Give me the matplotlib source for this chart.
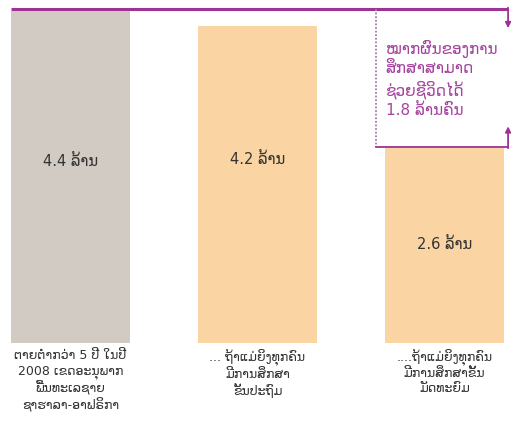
import matplotlib
matplotlib.use("Agg")
import matplotlib.pyplot as plt

# values in millions
values = [4.4, 4.2, 2.6]
value_labels = ["4.4 ລ້ານ", "4.2 ລ້ານ", "2.6 ລ້ານ"]
categories = [
    "ຕາຍຕ່ຳກວ່າ 5 ປີ ໃນປີ\n2008 ເຂດອະນຸພາກ\nພື້ນທະເລຊາຍ\nຊາຮາລາ-ອາຟຣິກາ",
    "... ຖ້າແມ່ຍິງທຸກຄົນ\nມີການສຶກສາ\nຂັ້ນປະຖົມ",
    "....ຖ້າແມ່ຍິງທຸກຄົນ\nມີການສຶກສາຂັ້ນ\nມັດທະຍົມ",
]
saved = values[0] - values[2]
note = "ໝາກຜົນຂອງການ\nສຶກສາສາມາດ\nຊ່ວຍຊີວິດໄດ້\n%.1f ລ້ານຄົນ" % saved

colors = ["#d1cbc3", "#fad5a3", "#fad5a3"]
purple = "#9e3394"
txt_purple = "#a5449f"

plt.rcParams["font.family"] = ["DejaVu Sans"]

fig = plt.figure(figsize=(5.13, 4.26), dpi=100)
ax = fig.add_axes([0, 83 / 426, 1, 343 / 426])
x = range(len(values))
w = 0.636
ax.bar(x, values, width=w, color=colors)
ax.set_xlim(-70.5 / 187, (513 - 70.5) / 187)
ax.set_ylim(0, 343 / 75.5)
ax.axis("off")

val_y = [2.4, 2.43, 1.3]
for i, (lab, vy) in enumerate(zip(value_labels, val_y)):
    ax.text(i, vy, lab, ha="center", va="center", fontsize=10.5, color="#333333")

for i, cat in enumerate(categories):
    ax.text(i, -0.08, cat, ha="center", va="top", fontsize=9,
            color="#333333", linespacing=1.17, clip_on=False)

# bracket showing the difference
top = values[0] + 0.03
low = values[2] - 0.01
xl = -w / 2
xd = 1.634
xr = 2.34
ax.plot([xl, xr], [top, top], color=purple, lw=2.2, clip_on=False,
        solid_capstyle="butt")
ax.annotate("", xy=(xr, values[1] - 0.03), xytext=(xr, top + 0.012),
            arrowprops=dict(arrowstyle="-|>", color=purple, lw=1.3,
                            mutation_scale=8, shrinkA=0, shrinkB=0),
            annotation_clip=False)
ax.plot([xd, xd], [top, low], color="#a87aa5", lw=1.3, ls=(0, (1, 1)))
ax.plot([xd, xr], [low, low], color=purple, lw=1.3)
ax.annotate("", xy=(xr, low + 0.28), xytext=(xr, low - 0.01),
            arrowprops=dict(arrowstyle="-|>", color=purple, lw=1.3,
                            mutation_scale=8, shrinkA=0, shrinkB=0),
            annotation_clip=False)
ax.text(1.685, 4.02, note, ha="left", va="top", fontsize=11,
        color=txt_purple, linespacing=1.3)

fig.savefig("out.png", dpi=100)
